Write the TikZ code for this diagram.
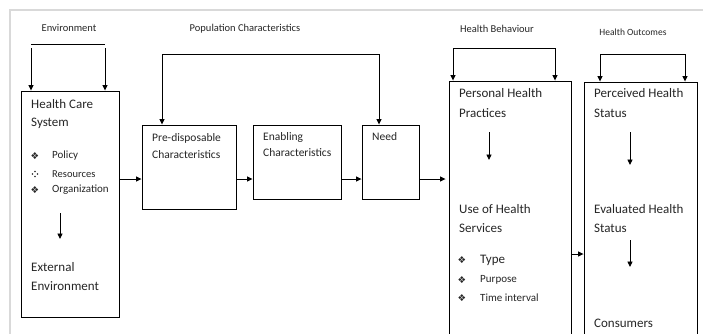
\documentclass[tikz,border=0pt]{standalone}
\usepackage{fontspec}
\setmainfont{Carlito}
\newfontfamily\symfont{DejaVu Sans}
\usetikzlibrary{arrows.meta}
\begin{document}
\begin{tikzpicture}[x=1pt,y=-1pt,
  box/.style={draw=black,line width=0.9pt,rectangle,inner sep=0pt},
  arr/.style={draw=black,line width=0.9pt,-{Triangle[length=5.5pt,width=5pt]}},
  ln/.style={draw=black,line width=0.9pt},
  big/.style={anchor=west,inner sep=0pt,text=black!85,font=\fontsize{13}{15}\selectfont},
  mid/.style={anchor=west,inner sep=0pt,text=black!85,font=\fontsize{11.5}{13}\selectfont},
  sml/.style={anchor=west,inner sep=0pt,text=black!85,font=\fontsize{11}{13}\selectfont},
  lab/.style={inner sep=0pt,text=black!85,font=\fontsize{10.5}{12}\selectfont},
  bul/.style={inner sep=0pt,text=black!85,font=\symfont\fontsize{9.5}{10}\selectfont},
  dot/.style={fill=black!85,draw=none,circle,inner sep=0pt,minimum size=1.8pt}]
\useasboundingbox (0,0) rectangle (703,333);
\fill[white] (0,0) rectangle (703,333);
\draw[black!15,line width=1.2pt] (10,334) -- (10,10) -- (704,10);

% boxes
\node[box,minimum width=98pt,minimum height=226pt] (b1) at (70,204) {};
\node[box,minimum width=94pt,minimum height=84pt] (b2) at (189,167) {};
\node[box,minimum width=88pt,minimum height=74pt] (b3) at (297,162) {};
\node[box,minimum width=57pt,minimum height=74pt] (b4) at (390.5,162) {};
\node[box,minimum width=122pt,minimum height=264pt] (b5) at (510,213) {};
\node[box,minimum width=113pt,minimum height=263pt] (b6) at (640.5,213.5) {};

% top labels
\node[lab] (lenv) at (69,28) {Environment};
\node[lab] (lpop) at (245,29) {Population Characteristics};
\node[lab] (lbeh) at (497,29) {Health Behaviour};
\node[lab,font=\fontsize{9.5}{11}\selectfont] (lout) at (633,32) {Health Outcomes};

% environment loop
\coordinate (e1) at (31,44);
\coordinate (e2) at (105,44);
\draw[ln] (e1) -- (e2);
\draw[arr] (31,48) -- (b1.north -| e1);
\draw[arr] (105,48) -- (b1.north -| e2);

% population loop
\coordinate (p1) at (162,54);
\coordinate (p2) at (379,54);
\draw[arr] (p2) -| (b2.north -| p1);
\draw[arr] (p2) -- (b4.north -| p2);

% behaviour loop
\coordinate (h1) at (453,48);
\coordinate (h2) at (555,48);
\draw[arr] (h2) -| (b5.north -| h1);
\draw[arr] (h2) -- (b5.north -| h2);

% outcomes loop
\coordinate (o1) at (600,54);
\coordinate (o2) at (685,54);
\draw[arr] (o2) -| (b6.north -| o1);
\draw[arr] (o2) -- (b6.north -| o2);

% horizontal flow
\coordinate (r) at (0,179);
\draw[arr] (b1.east |- r) -- (b2.west |- r);
\draw[arr] (b2.east |- r) -- (b3.west |- r);
\draw[arr] (b3.east |- r) -- (b4.west |- r);
\draw[arr] (b4.east |- r) -- ([xshift=-3pt]b5.west |- r);
\coordinate (r2) at (0,254);
\draw[arr] (b5.east |- r2) -- (b6.west |- r2);

% box 1 text
\node[big] (t1a) at (31,104) {Health Care};
\node[big] (t1b) at (31,123) {System};
\node[bul] (u1) at (35,156) {❖};
\node[sml] (t1c) at (52,156) {Policy};
\node[dot] (d1) at (35,171.5) {};
\node[dot] (d2) at (35,176.5) {};
\node[dot] (d3) at (32.5,174) {};
\node[dot] (d4) at (37.5,174) {};
\node[sml,font=\fontsize{10.5}{12}\selectfont] (t1d) at (52,174) {Resources};
\node[bul] (u3) at (35,190) {❖};
\node[sml] (t1e) at (52,190) {Organization};
\coordinate (i1) at (60,213);
\coordinate (i2) at (60,239);
\draw[arr] (i1) -- (i2);
\node[big] (t1f) at (31,267) {External};
\node[big] (t1g) at (31,286) {Environment};

% box 2-4 text
\node[mid] (t2a) at (152,138) {Pre-disposable};
\node[mid] (t2b) at (152,155) {Characteristics};
\node[mid] (t3a) at (263,137) {Enabling};
\node[mid] (t3b) at (263,153) {Characteristics};
\node[mid] (t4a) at (372,137) {Need};

% box 5 text
\node[big] (t5a) at (459,93) {Personal Health};
\node[big] (t5b) at (459,113) {Practices};
\coordinate (i3) at (489,132);
\coordinate (i4) at (489,160);
\draw[arr] (i3) -- (i4);
\node[big] (t5c) at (459,209) {Use of Health};
\node[big] (t5d) at (459,228) {Services};
\node[bul] (u4) at (462,260) {❖};
\node[big] (t5e) at (480,260) {Type};
\node[bul] (u5) at (462,280) {❖};
\node[sml] (t5f) at (480,280) {Purpose};
\node[bul] (u6) at (462,298) {❖};
\node[sml] (t5g) at (480,298) {Time interval};

% box 6 text
\node[big] (t6a) at (594,93) {Perceived Health};
\node[big] (t6b) at (594,113) {Status};
\coordinate (i5) at (630,132);
\coordinate (i6) at (630,165);
\draw[arr] (i5) -- (i6);
\node[big] (t6c) at (594,209) {Evaluated Health};
\node[big] (t6d) at (594,228) {Status};
\coordinate (i7) at (630,240);
\coordinate (i8) at (630,267);
\draw[arr] (i7) -- (i8);
\node[big] (t6e) at (594,323) {Consumers};
\end{tikzpicture}
\end{document}
